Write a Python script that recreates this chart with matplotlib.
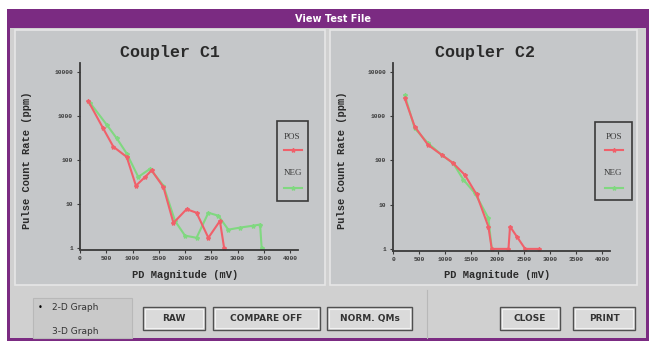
import numpy as np
import matplotlib
matplotlib.use("Agg")
import matplotlib.pyplot as plt
from matplotlib.patches import Rectangle

W, H = 649, 345

# ---- data ----
c1_pos_x = [160, 440, 635, 890, 1065, 1240, 1365, 1590, 1780, 2030, 2220, 2445, 2665, 2745]
c1_pos_y = [2150, 525, 200, 117, 26, 41, 58, 24, 3.7, 7.6, 6.3, 1.7, 4.1, 1.0]
c1_neg_x = [190, 510, 700, 890, 1110, 1335, 1590, 1810, 2000, 2220, 2445, 2635, 2825, 3050, 3300, 3430, 3460]
c1_neg_y = [2000, 630, 310, 140, 41, 63, 26, 4.1, 1.9, 1.7, 6.3, 5.4, 2.6, 2.9, 3.2, 3.4, 1.0]

c2_pos_x = [225, 415, 670, 930, 1150, 1375, 1600, 1825, 1890, 2210, 2240, 2370, 2530, 2785]
c2_pos_y = [2550, 585, 225, 134, 87, 47, 17, 3.2, 1.0, 1.0, 3.2, 1.9, 1.0, 1.0]
c2_neg_x = [225, 415, 670, 930, 1150, 1345, 1570, 1825, 1890]
c2_neg_y = [3000, 535, 245, 134, 87, 37, 18, 5.0, 1.0]

x_ticks = [0, 500, 1000, 1500, 2000, 2500, 3000, 3500, 4000]
y_ticks = [1, 10, 100, 1000, 10000]
y_tick_labels = ["1", "10", "100", "1000", "10000"]

PURPLE = "#7b2b82"
WIN_BG = "#d0d0d0"
PANEL_BG = "#c5c7c9"
RED = "#f0606a"
GREEN = "#80d880"
MONO = "Liberation Mono"


def box(x0, y0, x1, y1):
    # pixel box (top-left origin) -> figure fraction rect
    return [x0 / W, 1 - y1 / H, (x1 - x0) / W, (y1 - y0) / H]


fig = plt.figure(figsize=(W / 100, H / 100), dpi=100, facecolor="white")

# background canvas in pixel coordinates
bg = fig.add_axes([0, 0, 1, 1])
bg.set_xlim(0, W)
bg.set_ylim(H, 0)
bg.axis("off")


def rect(x0, y0, x1, y1, fc, ec="none", lw=0, z=0):
    bg.add_patch(Rectangle((x0, y0), x1 - x0, y1 - y0, facecolor=fc, edgecolor=ec, lw=lw, zorder=z))


# window chrome
rect(7, 9, 649, 341, PURPLE)
rect(10, 28, 646, 338, WIN_BG, z=1)
bg.text(333, 18.5, "View Test File", color="white", fontsize=7, fontweight="bold",
        ha="center", va="center", family="DejaVu Sans", zorder=3)

# chart panels
rect(15, 30, 325, 285, PANEL_BG, ec="#e6e6e6", lw=1.2, z=2)
rect(330, 30, 637, 285, PANEL_BG, ec="#e6e6e6", lw=1.2, z=2)

# bottom controls
rect(33, 298, 132, 338, "#c9c9c9", ec="#b8b8b8", lw=0.8, z=2)
bg.text(40, 307, "\u2022", fontsize=6, ha="center", va="center", zorder=3)
bg.text(52, 307, "2-D Graph", fontsize=6.5, ha="left", va="center", color="#333333",
        family="DejaVu Sans", zorder=3)
bg.text(52, 331, "3-D Graph", fontsize=6.5, ha="left", va="center", color="#333333",
        family="DejaVu Sans", zorder=3)
bg.plot([427, 427], [290, 338], color="#b8b8b8", lw=0.8, zorder=3)

buttons = [("RAW", 143, 205), ("COMPARE OFF", 213, 320), ("NORM. QMs", 327, 412),
           ("CLOSE", 500, 560), ("PRINT", 573, 635)]
for label, bx0, bx1 in buttons:
    rect(bx0, 307, bx1, 330, "#dadada", ec="#505050", lw=1.0, z=3)
    rect(bx0 + 2, 309, bx1 - 2, 328, "none", ec="#f2f2f2", lw=0.8, z=3)
    bg.text((bx0 + bx1) / 2, 318.5, label, fontsize=6.5, fontweight="bold", color="#333333",
            ha="center", va="center", family="DejaVu Sans", zorder=4)


def draw_chart(px0, px_4000, py_top, py_one, title, title_x, pos_x, pos_y, neg_x, neg_y, leg_box, ylab_x):
    # axis extents: x from spine to a bit past 4000, y log from 1 to just above 10000
    xr = 4150 / 4000 * (px_4000 - px0)
    ax = fig.add_axes(box(px0, py_top, px0 + xr, py_one + 1.5))
    ax.set_zorder(5)
    ax.patch.set_alpha(0)
    ax.set_yscale("log")
    ax.set_xlim(0, 4150)
    decade = (py_one - 72) / 4.0
    ax.set_ylim(0.92, 10 ** (4 + (72 - py_top) / decade))
    ax.plot(neg_x, neg_y, color=GREEN, lw=1.5, marker="*", ms=3)
    ax.plot(pos_x, pos_y, color=RED, lw=1.5, marker="*", ms=3)
    for s in ["top", "right"]:
        ax.spines[s].set_visible(False)
    for s in ["left", "bottom"]:
        ax.spines[s].set_color("#3a3a3a")
        ax.spines[s].set_linewidth(1.3)
    ax.set_xticks(x_ticks)
    ax.set_xticklabels([str(v) for v in x_ticks])
    ax.set_yticks(y_ticks)
    ax.set_yticklabels(y_tick_labels)
    ax.minorticks_off()
    ax.tick_params(length=2, width=0.8, colors="#3a3a3a", labelsize=4.5, pad=3)
    for t in ax.get_xticklabels() + ax.get_yticklabels():
        t.set_family(MONO)
        t.set_fontweight("bold")

    bg.text(title_x, 53, title, fontsize=12, fontweight="bold", family=MONO,
            ha="center", va="center", color="#2a2a2a", zorder=6)
    bg.text(ylab_x, 160, "Pulse Count Rate (ppm)", fontsize=7.5, fontweight="bold", family=MONO,
            rotation=90, ha="center", va="center", color="#2a2a2a", zorder=6)
    bg.text((px0 + px_4000) / 2, 275, "PD Magnitude (mV)", fontsize=7.5, fontweight="bold",
            family=MONO, ha="center", va="center", color="#2a2a2a", zorder=6)

    # legend box
    lx0, ly0, lx1, ly1 = leg_box
    rect(lx0, ly0, lx1, ly1, "none", ec="#3a3a3a", lw=1.2, z=6)
    cx = (lx0 + lx1) / 2
    bg.text(cx, 137, "POS", fontsize=6.5, family="Liberation Serif", ha="center", va="center",
            color="#3a3a3a", zorder=7)
    bg.plot([cx - 9, cx, cx + 9], [150, 150, 150], color=RED, lw=1.5, marker="*", ms=3,
            markevery=[1], zorder=7)
    bg.text(cx, 173, "NEG", fontsize=6.5, family="Liberation Serif", ha="center", va="center",
            color="#3a3a3a", zorder=7)
    bg.plot([cx - 9, cx, cx + 9], [188, 188, 188], color=GREEN, lw=1.5, marker="*", ms=3,
            markevery=[1], zorder=7)
    return ax


draw_chart(80, 290, 63, 248, "Coupler C1", 170, c1_pos_x, c1_pos_y, c1_neg_x, c1_neg_y,
           (277, 121, 308, 201), 27)
draw_chart(393, 602, 63, 249, "Coupler C2", 485, c2_pos_x, c2_pos_y, c2_neg_x, c2_neg_y,
           (595, 122, 632, 200), 342)

fig.savefig("out.png", dpi=100, facecolor="white")
